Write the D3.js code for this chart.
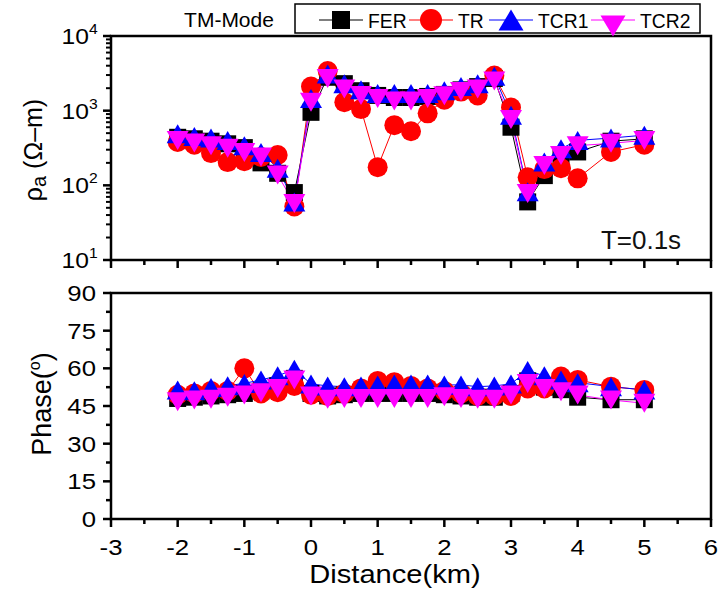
<!DOCTYPE html>
<html>
<head>
<meta charset="utf-8">
<script src="https://cdn.jsdelivr.net/npm/d3@7"></script>
<style>
  html, body { margin: 0; padding: 0; background: #fff; }
  svg { display: block; font-family: "Liberation Sans", Arial, sans-serif; }
</style>
</head>
<body>
<svg id="chart" width="721" height="592"></svg>
<script>
// Station positions along the profile (km)
const stations = [-2, -1.75, -1.5, -1.25, -1, -0.75, -0.5, -0.25, 0, 0.25, 0.5, 0.75, 1, 1.25,
  1.5, 1.75, 2, 2.25, 2.5, 2.75, 3, 3.25, 3.5, 3.75, 4, 4.5, 5];

// Apparent resistivity (ohm-m), T = 0.1 s
const ferRho  = [440, 420, 390, 360, 320, 200, 145, 80, 950, 2800, 2300, 1850, 1600, 1500,
  1500, 1550, 1650, 1900, 2100, 2700, 600, 60, 135, 250, 280, 390, 420];
const trRho   = [380, 350, 270, 205, 210, 240, 255, 52, 2100, 3400, 1300, 1050, 175, 640,
  530, 920, 1400, 1800, 1600, 2950, 1100, 128, 165, 170, 124, 280, 350];
const tcr1Rho = [490, 450, 430, 400, 340, 275, 170, 60, 1450, 3100, 2300, 1900, 1700, 1700,
  1700, 1700, 1850, 2100, 2300, 2900, 870, 82, 205, 310, 400, 430, 470];
const tcr2Rho = [400, 370, 340, 315, 275, 240, 138, 57, 1300, 2700, 1950, 1600, 1450, 1350,
  1350, 1450, 1580, 1800, 1950, 2500, 760, 78, 185, 250, 340, 365, 400];

// Impedance phase (degrees)
const ferPhase  = [48, 48.5, 49, 49.5, 50, 51, 53, 56, 50, 49, 49.5, 50, 50, 50,
  50, 50, 49.5, 49, 48.5, 48.5, 50, 55, 52.5, 51.5, 48.5, 47.5, 47.5];
const trPhase   = [49.5, 50, 51, 51, 60, 50, 50.5, 53, 49.5, 49, 50, 52, 55, 54.5,
  53, 52, 51, 50, 49, 49, 49, 52, 52, 56.7, 55.4, 52.7, 51.4];
const tcr1Phase = [51.4, 51.1, 52.4, 53.1, 54.0, 55.4, 57.0, 59.6, 53.8, 53.0, 52.7, 53.0, 53.4, 53.8,
  53.8, 53.8, 53.4, 53.4, 52.7, 53.0, 53.8, 59.1, 57.0, 55.4, 54.3, 52.7, 51.4];
const tcr2Phase = [46.7, 47.4, 47.7, 48.5, 49.4, 50.3, 52.0, 55.4, 49.0, 47.7, 48.0, 48.0, 48.0, 48.0,
  48.0, 48.0, 48.7, 48.0, 47.7, 47.7, 49.4, 54.0, 52.0, 50.7, 49.4, 47.4, 46.1];

const seriesNames = ["FER", "TR", "TCR1", "TCR2"];
const seriesColors = ["#000000", "#ff0000", "#0000ff", "#ff00ff"];
const seriesShapes = ["square", "circle", "triUp", "triDown"];

const xTicks = [-3, -2, -1, 0, 1, 2, 3, 4, 5, 6];
const phaseTicks = [0, 15, 30, 45, 60, 75, 90];
const rhoDecades = [1, 2, 3, 4];

const svg = d3.select("#chart");

const left = 111, right = 711;
const topPanel = { top: 36, bottom: 260 };
const botPanel = { top: 293, bottom: 519 };
const stretch = 1.12; // horizontal glyph scale for the axis lettering

const x = d3.scaleLinear().domain([-3, 6]).range([left, right]);
const yRho = d3.scaleLog().domain([10, 10000]).range([topPanel.bottom, topPanel.top]);
const yPh = d3.scaleLinear().domain([0, 90]).range([botPanel.bottom, botPanel.top]);

function shapePath(shape, s) {
  if (shape === "square") {
    const h = s.sq / 2;
    return `M${-h},${-h}H${h}V${h}H${-h}Z`;
  }
  if (shape === "circle") {
    const r = s.r;
    return `M${r},0A${r},${r} 0 1,1 ${-r},0A${r},${r} 0 1,1 ${r},0Z`;
  }
  const w = s.tw / 2, h = s.th / 2;
  if (shape === "triUp") return `M0,${-h}L${w},${h}L${-w},${h}Z`;
  return `M${-w},${-h}L${w},${-h}L0,${h}Z`;
}
const plotSym = { sq: 17, r: 10, tw: 22, th: 19 };
const legSym = { sq: 18, r: 11, tw: 25, th: 21 };

function stretchedText(g, tx, ty, opts) {
  return g.append("g")
    .attr("transform", `translate(${tx},${ty}) scale(${opts.sx || stretch},1)`)
    .append("text")
    .attr("font-size", opts.size)
    .attr("text-anchor", opts.anchor || "middle")
    .attr("fill", "#000");
}

function drawSeries(g, yScale, arrays) {
  arrays.forEach((vals, i) => {
    const pts = stations.map((s, j) => [x(s), yScale(vals[j])]);
    g.append("path")
      .attr("d", d3.line()(pts))
      .attr("fill", "none")
      .attr("stroke", seriesColors[i])
      .attr("stroke-width", 1);
  });
  arrays.forEach((vals, i) => {
    g.append("g").selectAll("path")
      .data(stations.map((s, j) => [s, vals[j]]))
      .join("path")
      .attr("transform", d => `translate(${x(d[0])},${yScale(d[1])})`)
      .attr("d", shapePath(seriesShapes[i], plotSym))
      .attr("fill", seriesColors[i]);
  });
}

// ---------- resistivity panel ----------
const gTop = svg.append("g");
drawSeries(gTop, yRho, [ferRho, trRho, tcr1Rho, tcr2Rho]);

// ---------- phase panel ----------
const gBot = svg.append("g");
drawSeries(gBot, yPh, [ferPhase, trPhase, tcr1Phase, tcr2Phase]);

// frames
[topPanel, botPanel].forEach(p => {
  svg.append("rect")
    .attr("x", left).attr("y", p.top)
    .attr("width", right - left).attr("height", p.bottom - p.top)
    .attr("fill", "none").attr("stroke", "#000").attr("stroke-width", 2.5);
});

// x ticks on both panels
const xMinor = d3.range(-2.5, 6, 1);
[topPanel, botPanel].forEach(p => {
  const ax = svg.append("g");
  ax.selectAll("line.maj").data(xTicks).join("line")
    .attr("x1", d => x(d)).attr("x2", d => x(d))
    .attr("y1", p.bottom).attr("y2", p.bottom + 8)
    .attr("stroke", "#000").attr("stroke-width", 2.5);
  ax.selectAll("line.min").data(xMinor).join("line")
    .attr("x1", d => x(d)).attr("x2", d => x(d))
    .attr("y1", p.bottom).attr("y2", p.bottom + 5)
    .attr("stroke", "#000").attr("stroke-width", 2.5);
});

// x tick labels on the lower panel
xTicks.forEach(d => {
  stretchedText(svg, x(d), 555, { size: 23 }).text(String(d));
});
stretchedText(svg, 395, 583, { size: 26 }).text("Distance(km)");

// log axis ticks
const rhoMajor = rhoDecades.map(e => Math.pow(10, e));
const rhoMinor = [];
[1, 2, 3].forEach(e => { for (let k = 2; k <= 9; k++) rhoMinor.push(k * Math.pow(10, e)); });
svg.append("g").selectAll("line").data(rhoMajor).join("line")
  .attr("x1", left - 8).attr("x2", left)
  .attr("y1", d => yRho(d)).attr("y2", d => yRho(d))
  .attr("stroke", "#000").attr("stroke-width", 2.5);
svg.append("g").selectAll("line").data(rhoMinor).join("line")
  .attr("x1", left - 5).attr("x2", left)
  .attr("y1", d => yRho(d)).attr("y2", d => yRho(d))
  .attr("stroke", "#000").attr("stroke-width", 2);
rhoDecades.forEach(e => {
  stretchedText(svg, 89, yRho(Math.pow(10, e)) + 8, { size: 22, anchor: "end" }).text("10");
  stretchedText(svg, 89, yRho(Math.pow(10, e)) - 2, { size: 14, anchor: "start" }).text(String(e));
});

// phase axis ticks
const phMinor = d3.range(7.5, 90, 15);
svg.append("g").selectAll("line").data(phaseTicks).join("line")
  .attr("x1", left - 8).attr("x2", left)
  .attr("y1", d => yPh(d)).attr("y2", d => yPh(d))
  .attr("stroke", "#000").attr("stroke-width", 2.5);
svg.append("g").selectAll("line").data(phMinor).join("line")
  .attr("x1", left - 5).attr("x2", left)
  .attr("y1", d => yPh(d)).attr("y2", d => yPh(d))
  .attr("stroke", "#000").attr("stroke-width", 2.5);
phaseTicks.forEach(d => {
  stretchedText(svg, 96, yPh(d) + 8, { size: 23, anchor: "end" }).text(String(d));
});

// axis titles
const rhoTitle = svg.append("g").attr("transform", `translate(42,150) rotate(-90)`)
  .append("text").attr("font-size", 25).attr("text-anchor", "middle");
rhoTitle.append("tspan").text("\u03c1");
rhoTitle.append("tspan").attr("font-size", 20).attr("dy", 4).text("a");
rhoTitle.append("tspan").attr("dy", -4).text(" (\u03a9\u2013m)");

const phTitle = svg.append("g").attr("transform", `translate(51,404) rotate(-90)`)
  .append("text").attr("font-size", 27).attr("text-anchor", "middle");
phTitle.append("tspan").text("Phase(");
phTitle.append("tspan").attr("font-size", 16).attr("dy", -11).text("o");
phTitle.append("tspan").attr("dy", 11).text(")");

// period label
svg.append("text").attr("x", 641).attr("y", 249).attr("font-size", 26)
  .attr("text-anchor", "middle").attr("fill", "#111").text("T=0.1s");

// legend
svg.append("text").attr("x", 229).attr("y", 27).attr("font-size", 21)
  .attr("text-anchor", "middle").text("TM-Mode");
svg.append("rect").attr("x", 295).attr("y", 4).attr("width", 405).attr("height", 29)
  .attr("fill", "#fff").attr("stroke", "#000").attr("stroke-width", 1.5);
const legX = [319, 409, 489, 591];
seriesNames.forEach((name, i) => {
  const lg = svg.append("g").attr("transform", `translate(${legX[i]},20)`);
  lg.append("line").attr("x1", 0).attr("x2", 44).attr("y1", 0).attr("y2", 0)
    .attr("stroke", seriesColors[i]).attr("stroke-width", 1.2);
  lg.append("path").attr("transform", `translate(22,${seriesShapes[i] === "triDown" ? 6 : 0})`)
    .attr("d", shapePath(seriesShapes[i], legSym)).attr("fill", seriesColors[i]);
  lg.append("g").attr("transform", "translate(49,8) scale(0.92,1)")
    .append("text").attr("font-size", 21).text(name);
});
</script>
</body>
</html>
